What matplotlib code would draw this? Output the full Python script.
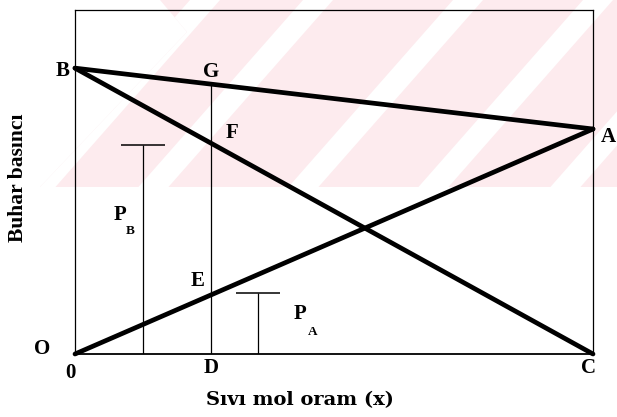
import matplotlib.pyplot as plt
from matplotlib.patches import Polygon

W, H = 617, 417

# sıvı mol kesri (x) ve buhar basınçları (göreli birim)
x_ends = [0.0, 1.0]
p_B = [0.831, 0.0]        # B -> C
p_A = [0.0, 0.654]        # O -> A
p_total = [0.831, 0.654]  # B -> A

x_D = 0.2625
pB_mark_x, pB_mark_h = 0.131, 0.608
pA_mark_x, pA_mark_h = 0.353, 0.177
cap_half = 0.042

plt.rcParams['font.family'] = ['Liberation Serif', 'DejaVu Serif']
plt.rcParams['font.weight'] = 'bold'

fig = plt.figure(figsize=(W / 100, H / 100), dpi=100)


def px(x, y):
    return (x / W, 1 - y / H)


# filigran (soluk pembe, beyaz çapraz şeritler)
pink = Polygon([px(160, 0), px(W, 0), px(W, 187), px(40, 187), px(187, 32)],
               closed=True, transform=fig.transFigure, facecolor='#fdebee',
               edgecolor='none', zorder=-10)
fig.add_artist(pink)
for x0 in [205, 318, 468, 598, 730]:
    wd = 30
    stripe = Polygon([px(x0 - wd / 2, 0), px(x0 + wd / 2, 0),
                      px(x0 + wd / 2 - 0.88 * 187, 187), px(x0 - wd / 2 - 0.88 * 187, 187)],
                     closed=True, transform=fig.transFigure, facecolor='white',
                     edgecolor='none', zorder=-9)
    stripe.set_clip_path(pink)
    fig.add_artist(stripe)

ax = fig.add_axes([75 / W, (H - 354) / H, 518 / W, 344 / H])
ax.set_facecolor('none')
ax.set_xlim(0, 1)
ax.set_ylim(0, 1)
ax.set_xticks([])
ax.set_yticks([])
for s in ax.spines.values():
    s.set_linewidth(0.9)
ax.spines['bottom'].set_linewidth(1.3)

lw = 3.4
ax.plot(x_ends, p_total, color='black', lw=lw, solid_capstyle='round', clip_on=False)
ax.plot(x_ends, p_B, color='black', lw=lw, solid_capstyle='round', clip_on=False)
ax.plot(x_ends, p_A, color='black', lw=lw, solid_capstyle='round', clip_on=False)

g_y = p_total[0] + (p_total[1] - p_total[0]) * x_D
f_y = p_B[0] * (1 - x_D)
e_y = p_A[1] * x_D
ax.vlines(x_D, 0, g_y, color='black', lw=0.9)

# P_B ve P_A gösterge çubukları
ax.vlines([pB_mark_x, pA_mark_x], 0, [pB_mark_h, pA_mark_h], color='black', lw=0.9)
ax.hlines([pB_mark_h, pA_mark_h],
          [pB_mark_x - cap_half, pA_mark_x - cap_half],
          [pB_mark_x + cap_half, pA_mark_x + cap_half], color='black', lw=1.1)

fs = 15


def label(txt, xy, off, size=fs, ha='center'):
    ax.annotate(txt, xy=xy, xytext=off, textcoords='offset pixels',
                ha=ha, va='center', fontsize=size, fontweight='bold',
                annotation_clip=False)


label('B', (0, p_B[0]), (-12, -3))
label('G', (x_D, g_y), (0, 12))
label('F', (x_D, f_y), (21, 10))
label('E', (x_D, e_y), (-13, 14))
label('A', (1, p_A[1]), (15, -8))
label('O', (0, 0), (-33, 5))
label('0', (0, 0), (-5, -19))
label('D', (x_D, 0), (0, -14))
label('C', (1, 0), (-4, -14))

label('P', (pB_mark_x, pB_mark_h), (-23, -70))
label('B', (pB_mark_x, pB_mark_h), (-13, -86), size=9.5)
label('P', (pA_mark_x, pA_mark_h), (42, -21))
label('A', (pA_mark_x, pA_mark_h), (55, -39), size=9.5)

fig.text(300 / W, 1 - 400 / H, 'Sıvı mol oram (x)', ha='center', va='center',
         fontsize=14, fontweight='bold', family=['DejaVu Serif'])
fig.text(18 / W, 1 - 178 / H, 'Buhar basıncı', ha='center', va='center',
         rotation=90, fontsize=15.5, fontweight='bold')

fig.savefig('out.png', dpi=100)
